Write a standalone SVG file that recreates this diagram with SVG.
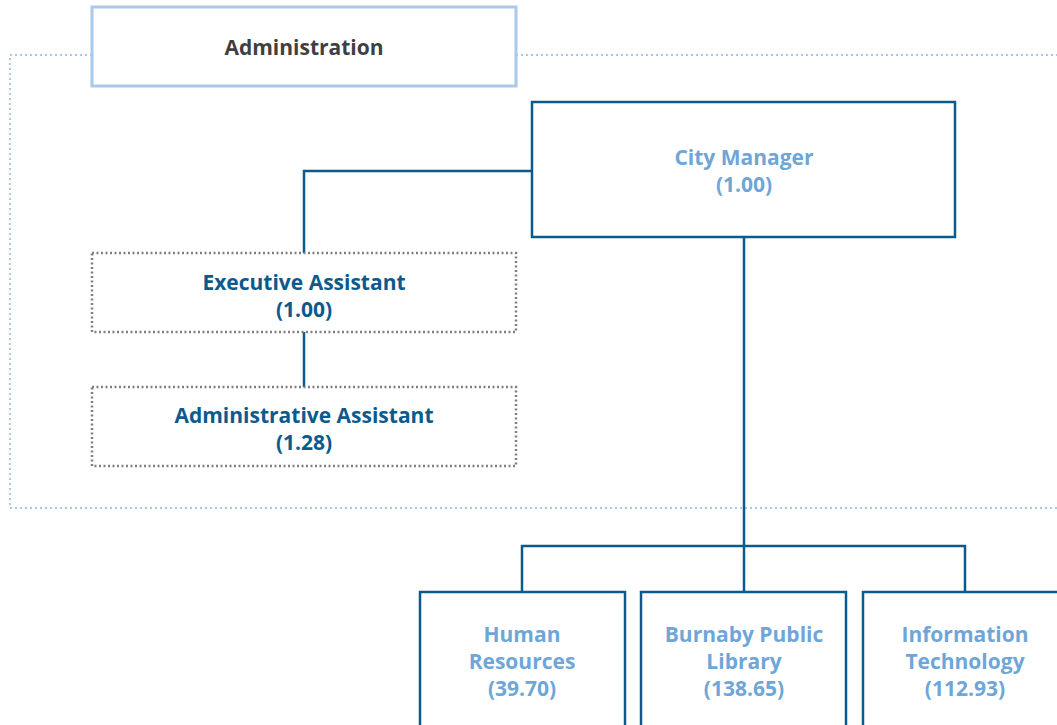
<svg xmlns="http://www.w3.org/2000/svg" width="1057" height="725" viewBox="0 0 1057 725">
<style>
text{font-family:"Open Sans","Lato","Liberation Sans",sans-serif;font-weight:700;font-size:21px;text-anchor:middle}
.dk{fill:#0b5a8e}
.lt{fill:#6fa6d8}
.gr{fill:#3f3f3f}
.solid{fill:#fff;stroke:#0b5a8e;stroke-width:2.5}
.dot{fill:#fff;stroke:#808080;stroke-width:2.5;stroke-dasharray:2 2.5}
.conn{fill:none;stroke:#0b5a8e;stroke-width:2.5}
</style>
<rect width="1057" height="725" fill="#fff"/>
<g id="container">
<path d="M92 55 H10 V508 H1060 M516 55 H1060" fill="none" stroke="#a9c9ea" stroke-width="2" stroke-dasharray="2 3"/>
</g>
<g id="connectors">
<path class="conn" d="M532 171 H304 V253"/>
<path class="conn" d="M304 332 V387"/>
<path class="conn" d="M744 237 V592"/>
<path class="conn" d="M522 592 V546 H965 V592"/>
</g>
<g id="administration">
<rect x="92" y="7" width="424" height="79" fill="#fff" stroke="#a9c9ea" stroke-width="3"/>
<text class="gr" x="304" y="55">Administration</text>
</g>
<g id="city-manager">
<rect class="solid" x="532" y="102" width="423" height="135"/>
<text class="lt" x="744" y="165">City Manager</text>
<text class="lt" x="744" y="192">(1.00)</text>
</g>
<g id="executive-assistant">
<rect class="dot" x="92" y="253" width="424" height="79"/>
<text class="dk" x="304" y="290">Executive Assistant</text>
<text class="dk" x="304" y="317">(1.00)</text>
</g>
<g id="administrative-assistant">
<rect class="dot" x="92" y="387" width="424" height="79"/>
<text class="dk" x="304" y="423">Administrative Assistant</text>
<text class="dk" x="304" y="450">(1.28)</text>
</g>
<g id="human-resources">
<rect class="solid" x="420" y="592" width="205" height="150"/>
<text class="lt" x="522" y="642">Human</text>
<text class="lt" x="522" y="669">Resources</text>
<text class="lt" x="522" y="696">(39.70)</text>
</g>
<g id="burnaby-public-library">
<rect class="solid" x="641" y="592" width="205" height="150"/>
<text class="lt" x="744" y="642">Burnaby Public</text>
<text class="lt" x="744" y="669">Library</text>
<text class="lt" x="744" y="696">(138.65)</text>
</g>
<g id="information-technology">
<rect class="solid" x="863" y="592" width="205" height="150"/>
<text class="lt" x="965" y="642">Information</text>
<text class="lt" x="965" y="669">Technology</text>
<text class="lt" x="965" y="696">(112.93)</text>
</g>
</svg>
